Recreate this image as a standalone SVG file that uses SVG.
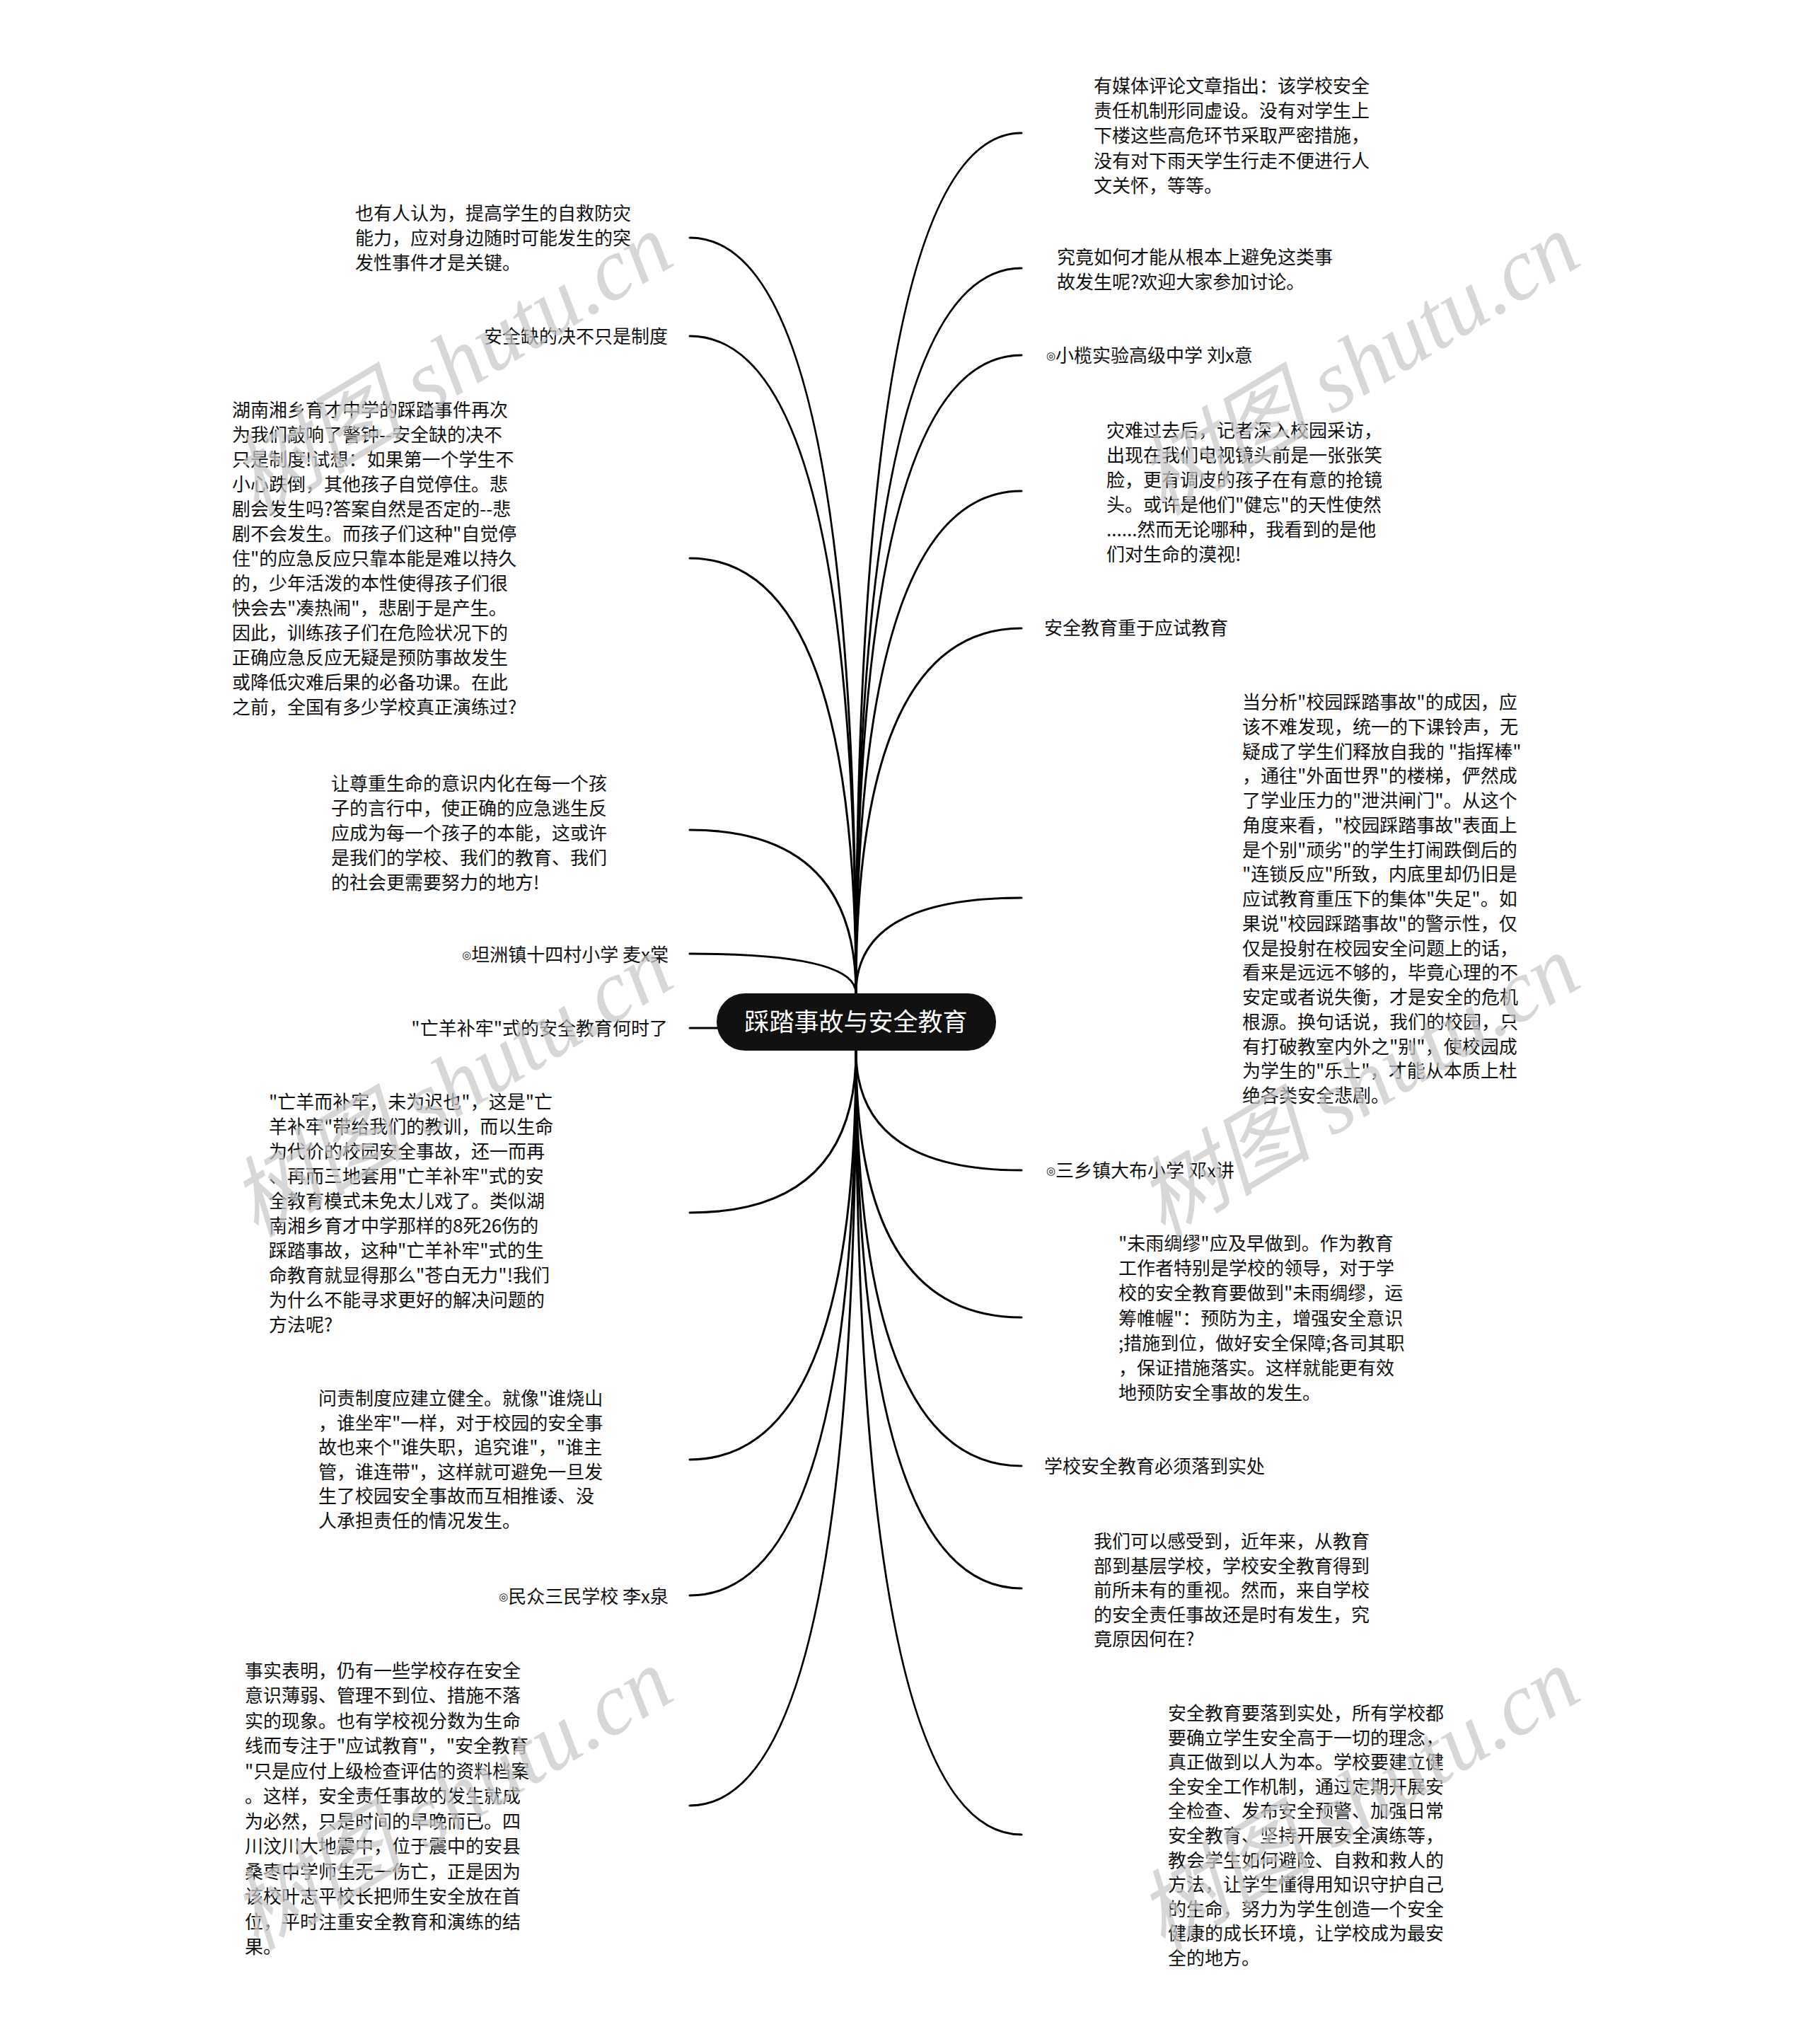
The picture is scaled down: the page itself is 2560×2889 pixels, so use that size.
<svg xmlns="http://www.w3.org/2000/svg" width="2560" height="2889" viewBox="0 0 2560 2889">
<style>
.t{font-family:"Noto Sans CJK SC","Noto Sans",sans-serif;font-size:26px;fill:#111}
.e{text-anchor:end}
.s{font-family:"DejaVu Sans",sans-serif;font-size:15px}
.root{font-family:"Noto Sans CJK SC","Noto Sans",sans-serif;font-size:35px;fill:#fff;text-anchor:middle}
.c{fill:none;stroke:#000;stroke-width:3;stroke-linecap:round}
.wm{font-family:"Liberation Serif","Noto Sans CJK SC",serif;font-style:italic;font-size:124px;fill:#c8c8c8;opacity:0.72;text-anchor:end}
</style>
<rect width="2560" height="2889" fill="#fff"/>
<g id="connectors">
<path class="c" d="M1210 1404 Q1210 188 1444 188"/>
<path class="c" d="M1210 1404 Q1210 379 1444 379"/>
<path class="c" d="M1210 1404 Q1210 502 1444 502"/>
<path class="c" d="M1210 1404 Q1210 694 1444 694"/>
<path class="c" d="M1210 1404 Q1210 888 1444 888"/>
<path class="c" d="M1210 1404 Q1210 1269 1444 1269"/>
<path class="c" d="M1210 1485 Q1210 1654 1444 1654"/>
<path class="c" d="M1210 1485 Q1210 1862 1444 1862"/>
<path class="c" d="M1210 1485 Q1210 2072 1444 2072"/>
<path class="c" d="M1210 1485 Q1210 2245 1444 2245"/>
<path class="c" d="M1210 1485 Q1210 2593 1444 2593"/>
<path class="c" d="M1210 1404 Q1210 336 975 336"/>
<path class="c" d="M1210 1404 Q1210 475 975 475"/>
<path class="c" d="M1210 1404 Q1210 789 975 789"/>
<path class="c" d="M1210 1404 Q1210 1173 975 1173"/>
<path class="c" d="M1210 1404 Q1210 1348 975 1348"/>
<path class="c" d="M1020 1453 L975 1453"/>
<path class="c" d="M1210 1485 Q1210 1714 975 1714"/>
<path class="c" d="M1210 1485 Q1210 2063 975 2063"/>
<path class="c" d="M1210 1485 Q1210 2255 975 2255"/>
<path class="c" d="M1210 1485 Q1210 2552 975 2552"/>
</g>
<g id="root">
<rect x="1013" y="1404" width="395" height="81" rx="40" ry="40" fill="#111"/>
<text class="root" x="1210" y="1457">踩踏事故与安全教育</text>
</g>
<g id="r1"><text class="t" x="1546" y="131"><tspan x="1546">有媒体评论文章指出：该学校安全</tspan><tspan x="1546" dy="35.2">责任机制形同虚设。没有对学生上</tspan><tspan x="1546" dy="35.2">下楼这些高危环节采取严密措施，</tspan><tspan x="1546" dy="35.2">没有对下雨天学生行走不便进行人</tspan><tspan x="1546" dy="35.2">文关怀，等等。</tspan></text></g>
<g id="r2"><text class="t" x="1494" y="373"><tspan x="1494">究竟如何才能从根本上避免这类事</tspan><tspan x="1494" dy="35">故发生呢?欢迎大家参加讨论。</tspan></text></g>
<g id="r3"><text class="t" x="1479" y="512"><tspan class="s" dy="-4">◎</tspan><tspan dy="4">小榄实验高级中学 刘x意</tspan></text></g>
<g id="r4"><text class="t" x="1564" y="618"><tspan x="1564">灾难过去后，记者深入校园采访，</tspan><tspan x="1564" dy="35">出现在我们电视镜头前是一张张笑</tspan><tspan x="1564" dy="35">脸，更有调皮的孩子在有意的抢镜</tspan><tspan x="1564" dy="35">头。或许是他们"健忘"的天性使然</tspan><tspan x="1564" dy="35">......然而无论哪种，我看到的是他</tspan><tspan x="1564" dy="35">们对生命的漠视!</tspan></text></g>
<g id="r5"><text class="t" x="1476" y="897">安全教育重于应试教育</text></g>
<g id="r6"><text class="t" x="1756" y="1002"><tspan x="1756">当分析"校园踩踏事故"的成因，应</tspan><tspan x="1756" dy="34.75">该不难发现，统一的下课铃声，无</tspan><tspan x="1756" dy="34.75">疑成了学生们释放自我的 "指挥棒"</tspan><tspan x="1756" dy="34.75">，通往"外面世界"的楼梯，俨然成</tspan><tspan x="1756" dy="34.75">了学业压力的"泄洪闸门"。从这个</tspan><tspan x="1756" dy="34.75">角度来看，"校园踩踏事故"表面上</tspan><tspan x="1756" dy="34.75">是个别"顽劣"的学生打闹跌倒后的</tspan><tspan x="1756" dy="34.75">"连锁反应"所致，内底里却仍旧是</tspan><tspan x="1756" dy="34.75">应试教育重压下的集体"失足"。如</tspan><tspan x="1756" dy="34.75">果说"校园踩踏事故"的警示性，仅</tspan><tspan x="1756" dy="34.75">仅是投射在校园安全问题上的话，</tspan><tspan x="1756" dy="34.75">看来是远远不够的，毕竟心理的不</tspan><tspan x="1756" dy="34.75">安定或者说失衡，才是安全的危机</tspan><tspan x="1756" dy="34.75">根源。换句话说，我们的校园，只</tspan><tspan x="1756" dy="34.75">有打破教室内外之"别"，使校园成</tspan><tspan x="1756" dy="34.75">为学生的"乐土"，才能从本质上杜</tspan><tspan x="1756" dy="34.75">绝各类安全悲剧。</tspan></text></g>
<g id="r7"><text class="t" x="1479" y="1664"><tspan class="s" dy="-4">◎</tspan><tspan dy="4">三乡镇大布小学 邓x讲</tspan></text></g>
<g id="r8"><text class="t" x="1581" y="1767"><tspan x="1581">"未雨绸缪"应及早做到。作为教育</tspan><tspan x="1581" dy="35.2">工作者特别是学校的领导，对于学</tspan><tspan x="1581" dy="35.2">校的安全教育要做到"未雨绸缪，运</tspan><tspan x="1581" dy="35.2">筹帷幄"：预防为主，增强安全意识</tspan><tspan x="1581" dy="35.2">;措施到位，做好安全保障;各司其职</tspan><tspan x="1581" dy="35.2">，保证措施落实。这样就能更有效</tspan><tspan x="1581" dy="35.2">地预防安全事故的发生。</tspan></text></g>
<g id="r9"><text class="t" x="1476" y="2082">学校安全教育必须落到实处</text></g>
<g id="r10"><text class="t" x="1546" y="2188"><tspan x="1546">我们可以感受到，近年来，从教育</tspan><tspan x="1546" dy="34.6">部到基层学校，学校安全教育得到</tspan><tspan x="1546" dy="34.6">前所未有的重视。然而，来自学校</tspan><tspan x="1546" dy="34.6">的安全责任事故还是时有发生，究</tspan><tspan x="1546" dy="34.6">竟原因何在?</tspan></text></g>
<g id="r11"><text class="t" x="1651" y="2431"><tspan x="1651">安全教育要落到实处，所有学校都</tspan><tspan x="1651" dy="34.6">要确立学生安全高于一切的理念，</tspan><tspan x="1651" dy="34.6">真正做到以人为本。学校要建立健</tspan><tspan x="1651" dy="34.6">全安全工作机制，通过定期开展安</tspan><tspan x="1651" dy="34.6">全检查、发布安全预警、加强日常</tspan><tspan x="1651" dy="34.6">安全教育、坚持开展安全演练等，</tspan><tspan x="1651" dy="34.6">教会学生如何避险、自救和救人的</tspan><tspan x="1651" dy="34.6">方法，让学生懂得用知识守护自己</tspan><tspan x="1651" dy="34.6">的生命，努力为学生创造一个安全</tspan><tspan x="1651" dy="34.6">健康的成长环境，让学校成为最安</tspan><tspan x="1651" dy="34.6">全的地方。</tspan></text></g>
<g id="l1"><text class="t" x="502" y="311"><tspan x="502">也有人认为，提高学生的自救防灾</tspan><tspan x="502" dy="35">能力，应对身边随时可能发生的突</tspan><tspan x="502" dy="35">发性事件才是关键。</tspan></text></g>
<g id="l2"><text class="t e" x="944" y="485">安全缺的决不只是制度</text></g>
<g id="l3"><text class="t" x="328" y="589"><tspan x="328">湖南湘乡育才中学的踩踏事件再次</tspan><tspan x="328" dy="35">为我们敲响了警钟--安全缺的决不</tspan><tspan x="328" dy="35">只是制度!试想：如果第一个学生不</tspan><tspan x="328" dy="35">小心跌倒，其他孩子自觉停住。悲</tspan><tspan x="328" dy="35">剧会发生吗?答案自然是否定的--悲</tspan><tspan x="328" dy="35">剧不会发生。而孩子们这种"自觉停</tspan><tspan x="328" dy="35">住"的应急反应只靠本能是难以持久</tspan><tspan x="328" dy="35">的，少年活泼的本性使得孩子们很</tspan><tspan x="328" dy="35">快会去"凑热闹"，悲剧于是产生。</tspan><tspan x="328" dy="35">因此，训练孩子们在危险状况下的</tspan><tspan x="328" dy="35">正确应急反应无疑是预防事故发生</tspan><tspan x="328" dy="35">或降低灾难后果的必备功课。在此</tspan><tspan x="328" dy="35">之前，全国有多少学校真正演练过?</tspan></text></g>
<g id="l4"><text class="t" x="468" y="1117"><tspan x="468">让尊重生命的意识内化在每一个孩</tspan><tspan x="468" dy="35">子的言行中，使正确的应急逃生反</tspan><tspan x="468" dy="35">应成为每一个孩子的本能，这或许</tspan><tspan x="468" dy="35">是我们的学校、我们的教育、我们</tspan><tspan x="468" dy="35">的社会更需要努力的地方!</tspan></text></g>
<g id="l5"><text class="t e" x="945" y="1359"><tspan class="s" dy="-4">◎</tspan><tspan dy="4">坦洲镇十四村小学 麦x棠</tspan></text></g>
<g id="l6"><text class="t e" x="944" y="1463">"亡羊补牢"式的安全教育何时了</text></g>
<g id="l7"><text class="t" x="380" y="1567"><tspan x="380">"亡羊而补牢，未为迟也"，这是"亡</tspan><tspan x="380" dy="35">羊补牢"带给我们的教训，而以生命</tspan><tspan x="380" dy="35">为代价的校园安全事故，还一而再</tspan><tspan x="380" dy="35">、再而三地套用"亡羊补牢"式的安</tspan><tspan x="380" dy="35">全教育模式未免太儿戏了。类似湖</tspan><tspan x="380" dy="35">南湘乡育才中学那样的8死26伤的</tspan><tspan x="380" dy="35">踩踏事故，这种"亡羊补牢"式的生</tspan><tspan x="380" dy="35">命教育就显得那么"苍白无力"!我们</tspan><tspan x="380" dy="35">为什么不能寻求更好的解决问题的</tspan><tspan x="380" dy="35">方法呢?</tspan></text></g>
<g id="l8"><text class="t" x="450" y="1986"><tspan x="450">问责制度应建立健全。就像"谁烧山</tspan><tspan x="450" dy="34.5">，谁坐牢"一样，对于校园的安全事</tspan><tspan x="450" dy="34.5">故也来个"谁失职，追究谁"，"谁主</tspan><tspan x="450" dy="34.5">管，谁连带"，这样就可避免一旦发</tspan><tspan x="450" dy="34.5">生了校园安全事故而互相推诿、没</tspan><tspan x="450" dy="34.5">人承担责任的情况发生。</tspan></text></g>
<g id="l9"><text class="t e" x="945" y="2266"><tspan class="s" dy="-4">◎</tspan><tspan dy="4">民众三民学校 李x泉</tspan></text></g>
<g id="l10"><text class="t" x="346" y="2371"><tspan x="346">事实表明，仍有一些学校存在安全</tspan><tspan x="346" dy="35.45">意识薄弱、管理不到位、措施不落</tspan><tspan x="346" dy="35.45">实的现象。也有学校视分数为生命</tspan><tspan x="346" dy="35.45">线而专注于"应试教育"，"安全教育</tspan><tspan x="346" dy="35.45">"只是应付上级检查评估的资料档案</tspan><tspan x="346" dy="35.45">。这样，安全责任事故的发生就成</tspan><tspan x="346" dy="35.45">为必然，只是时间的早晚而已。四</tspan><tspan x="346" dy="35.45">川汶川大地震中，位于震中的安县</tspan><tspan x="346" dy="35.45">桑枣中学师生无一伤亡，正是因为</tspan><tspan x="346" dy="35.45">该校叶志平校长把师生安全放在首</tspan><tspan x="346" dy="35.45">位，平时注重安全教育和演练的结</tspan><tspan x="346" dy="35.45">果。</tspan></text></g>
<g id="watermark">
<text class="wm" transform="translate(958 372) rotate(-31)">树图 shutu.cn</text>
<text class="wm" transform="translate(2240 372) rotate(-31)">树图 shutu.cn</text>
<text class="wm" transform="translate(958 1392) rotate(-31)">树图 shutu.cn</text>
<text class="wm" transform="translate(2240 1392) rotate(-31)">树图 shutu.cn</text>
<text class="wm" transform="translate(958 2400) rotate(-31)">树图 shutu.cn</text>
<text class="wm" transform="translate(2240 2400) rotate(-31)">树图 shutu.cn</text>
</g>
</svg>
